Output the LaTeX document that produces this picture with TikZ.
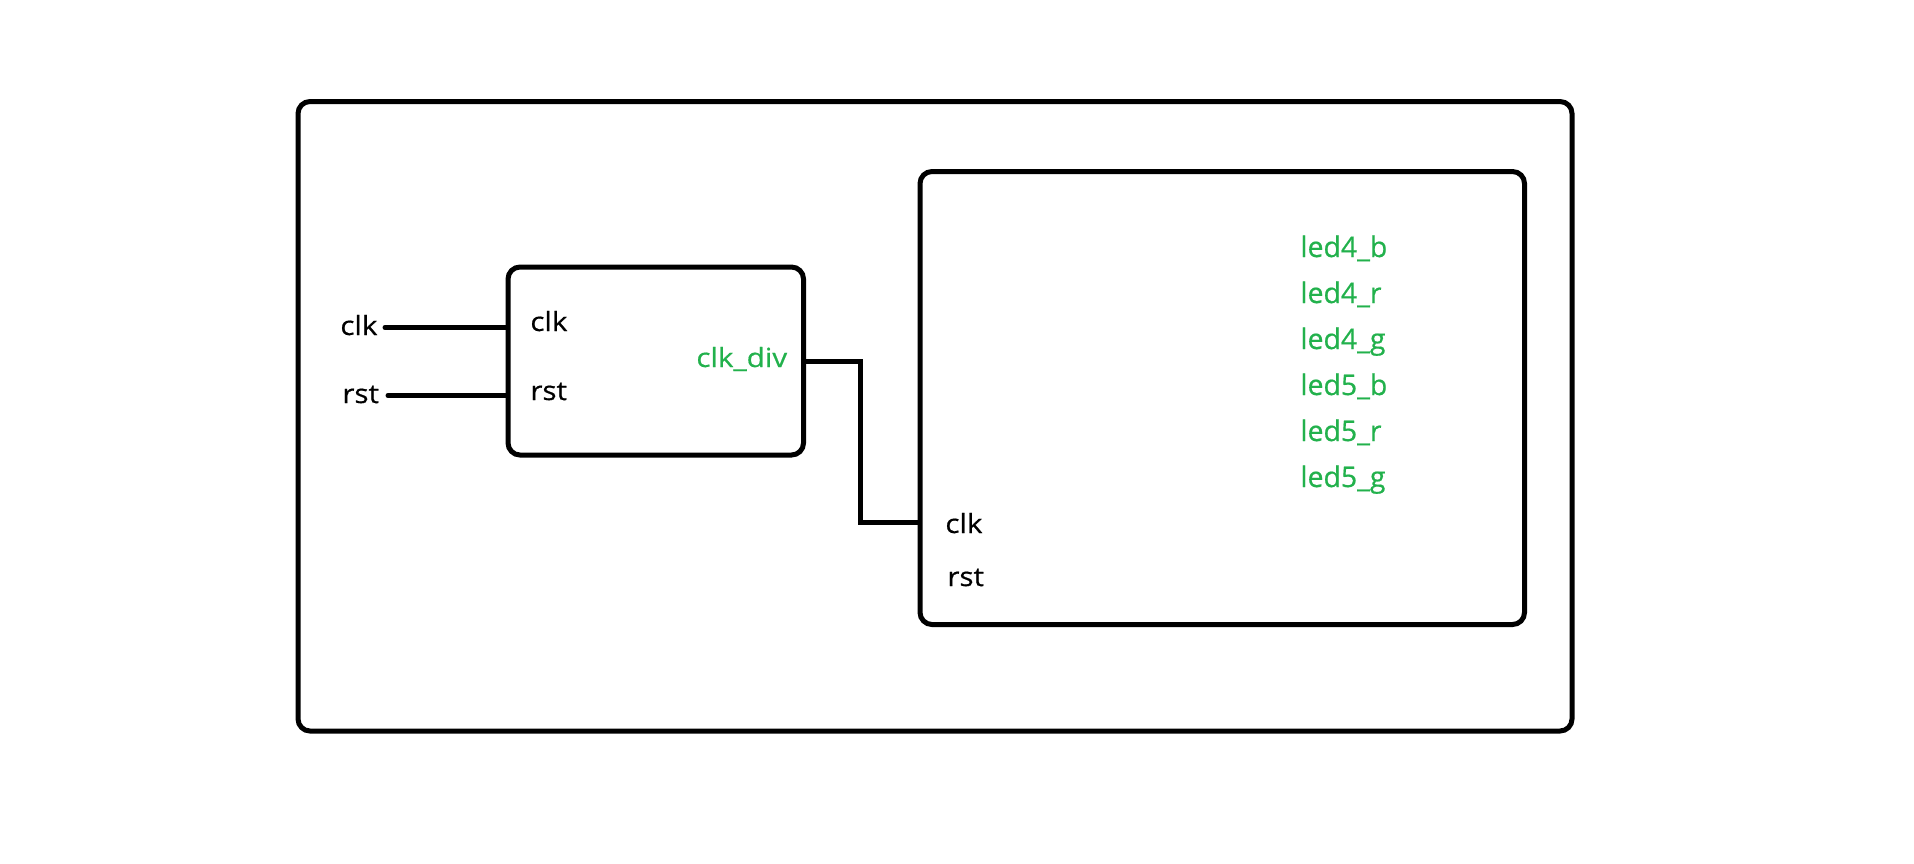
\documentclass[tikz,border=0pt]{standalone}
\usepackage{fontspec}
\setmainfont{Open Sans}[FakeStretch=1.12, FakeBold=0.6]
\newfontfamily\ledfont{Open Sans}[FakeBold=0.6]
\definecolor{portgreen}{RGB}{34,177,76}
\begin{document}
\begin{tikzpicture}[x=0.5pt,y=-0.5pt,
  box/.style={draw, line width=2.5pt, rounded corners=6pt, inner sep=0pt},
  wire/.style={line width=2.5pt},
  port/.style={anchor=base west, inner sep=0pt, font=\fontsize{13.2}{15}\selectfont},
  outport/.style={port, text=portgreen},
  ledport/.style={anchor=base west, inner sep=0pt, text=portgreen, font=\ledfont\fontsize{14.2}{16}\selectfont}]
\useasboundingbox (0,0) rectangle (1914,863);

% top level wrapper
\node[box, minimum width=637pt, minimum height=314.75pt] (top) at (935,416.25) {};
% clock divider block
\node[box, minimum width=147.75pt, minimum height=94pt] (div) at (655.75,361) {};
% LED driver block
\node[box, minimum width=302.25pt, minimum height=226.5pt] (core) at (1222.25,398) {};

% top-level inputs
\node[port] (inclk) at (340,335) {clk};
\node[port] (inrst) at (342,403) {rst};
\coordinate (clkend) at (385,327.5);
\coordinate (rstend) at (388,395.5);

% divider ports
\node[port] (divclk) at (530,331) {clk};
\node[port] (divrst) at (530,400) {rst};
\node[outport] (divout) at (696,367) {clk\_div};

% LED driver ports
\node[port] (coreclk) at (945,533) {clk};
\node[port] (corerst) at (947,586) {rst};
\foreach \name [count=\i from 0] in {led4\_b,led4\_r,led4\_g,led5\_b,led5\_r,led5\_g}
  \node[ledport] (led\i) at (1300,257+46*\i) {\name};

% wiring
\coordinate (jog) at (860.5,361);
\coordinate (clkin) at (920,522.5);
\draw[wire, line cap=round] (clkend) -- (div.west |- clkend);
\draw[wire, line cap=round] (rstend) -- (div.west |- rstend);
\draw[wire] (div.east) -- (jog) |- (core.west |- clkin);
\end{tikzpicture}
\end{document}
